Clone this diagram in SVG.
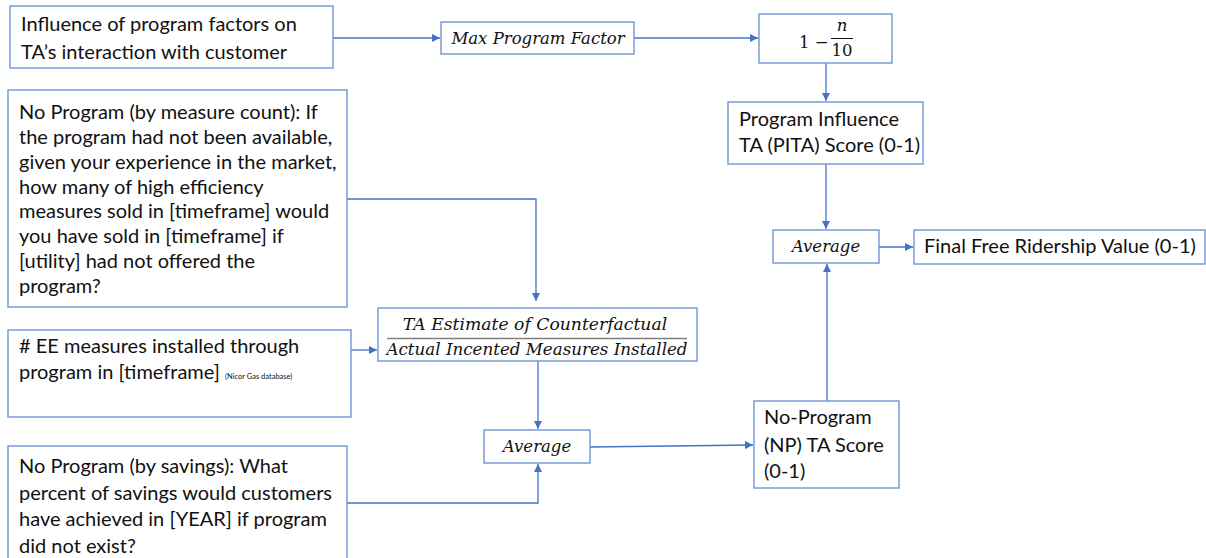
<svg xmlns="http://www.w3.org/2000/svg" width="1206" height="558" viewBox="0 0 1206 558">
<style>
.box{fill:#fff;stroke:#6F95D8;stroke-width:1.4}
.t{font-family:Lato,"Open Sans","Liberation Sans",sans-serif;font-size:20px;fill:#111}
.m{font-family:"DejaVu Serif","Liberation Serif",serif;font-style:italic;font-size:16.5px;fill:#111}
.c{fill:none;stroke:#4472C4;stroke-width:1.3}
</style>
<defs>
<marker id="ah" viewBox="0 0 10 10" refX="10" refY="5" markerWidth="8" markerHeight="8" markerUnits="userSpaceOnUse" orient="auto">
<path d="M0,0 L10,5 L0,10 z" fill="#4472C4"/>
</marker>
</defs>
<rect width="1206" height="558" fill="#fff"/>
<g id="connectors">
<path class="c" d="M333,38 H440" marker-end="url(#ah)"/>
<path class="c" d="M634,38 H758" marker-end="url(#ah)"/>
<path class="c" d="M826,63 V101" marker-end="url(#ah)"/>
<path class="c" d="M826,164 V229" marker-end="url(#ah)"/>
<path class="c" d="M879,247 H913" marker-end="url(#ah)"/>
<path class="c" d="M347,199 H536 V301" marker-end="url(#ah)"/>
<path class="c" d="M351,350 H377" marker-end="url(#ah)"/>
<path class="c" d="M538,361 V429" marker-end="url(#ah)"/>
<path class="c" d="M347,503 H538 V464" marker-end="url(#ah)"/>
<path class="c" d="M590,447 L753,445" marker-end="url(#ah)"/>
<path class="c" d="M827,401 V264" marker-end="url(#ah)"/>
</g>
<g id="influence">
<rect class="box" x="10" y="6" width="323" height="62"/>
<text class="t" x="21" y="31">Influence of program factors on</text>
<text class="t" x="21" y="59">TA’s interaction with customer</text>
</g>
<g id="maxfactor">
<rect class="box" x="441" y="22" width="193" height="32"/>
<text class="m" x="538" y="44" text-anchor="middle">Max Program Factor</text>
</g>
<g id="formula">
<rect class="box" x="759" y="14" width="133" height="49"/>
<text class="m" x="799" y="48" style="font-style:normal">1 −</text>
<text class="m" x="842" y="31" text-anchor="middle">n</text>
<line x1="831" y1="38.5" x2="853" y2="38.5" stroke="#111" stroke-width="1"/>
<text class="m" x="842" y="56" text-anchor="middle" style="font-style:normal">10</text>
</g>
<g id="pita">
<rect class="box" x="728" y="102" width="195" height="62"/>
<text class="t" x="739" y="126">Program Influence</text>
<text class="t" x="739" y="152">TA (PITA) Score (0-1)</text>
</g>
<g id="avg-top">
<rect class="box" x="773" y="230" width="106" height="33"/>
<text class="m" x="826" y="252" text-anchor="middle">Average</text>
</g>
<g id="final">
<rect class="box" x="914" y="230" width="291" height="34"/>
<text class="t" x="924" y="253">Final Free Ridership Value (0-1)</text>
</g>
<g id="measurecount">
<rect class="box" x="8" y="90" width="339" height="217"/>
<text class="t" x="19" y="119">No Program (by measure count): If</text>
<text class="t" x="19" y="144">the program had not been available,</text>
<text class="t" x="19" y="169">given your experience in the market,</text>
<text class="t" x="19" y="194">how many of high efficiency</text>
<text class="t" x="19" y="218">measures sold in [timeframe] would</text>
<text class="t" x="19" y="243">you have sold in [timeframe] if</text>
<text class="t" x="19" y="268">[utility] had not offered the</text>
<text class="t" x="19" y="293">program?</text>
</g>
<g id="ee">
<rect class="box" x="8" y="330" width="343" height="87"/>
<text class="t" x="19" y="353"># EE measures installed through</text>
<text class="t" x="19" y="379">program in [timeframe] <tspan style="font-size:7.5px">(Nicor Gas database)</tspan></text>
</g>
<g id="ratio">
<rect class="box" x="378" y="308" width="319" height="53"/>
<text class="m" x="535" y="330" text-anchor="middle" style="font-size:17.2px">TA Estimate of Counterfactual</text>
<line x1="387" y1="338.5" x2="687" y2="338.5" stroke="#7f7f7f" stroke-width="1.6"/>
<text class="m" x="537" y="355" text-anchor="middle" style="font-size:16.7px">Actual Incented Measures Installed</text>
</g>
<g id="avg-bottom">
<rect class="box" x="484" y="430" width="106" height="33"/>
<text class="m" x="537" y="452" text-anchor="middle">Average</text>
</g>
<g id="savings">
<rect class="box" x="8" y="446" width="339" height="130"/>
<text class="t" x="19" y="473">No Program (by savings): What</text>
<text class="t" x="19" y="500">percent of savings would customers</text>
<text class="t" x="19" y="526">have achieved in [YEAR] if program</text>
<text class="t" x="19" y="553">did not exist?</text>
</g>
<g id="np">
<rect class="box" x="754" y="401" width="145" height="87"/>
<text class="t" x="764" y="424">No-Program</text>
<text class="t" x="764" y="452">(NP) TA Score</text>
<text class="t" x="764" y="478">(0-1)</text>
</g>
</svg>
